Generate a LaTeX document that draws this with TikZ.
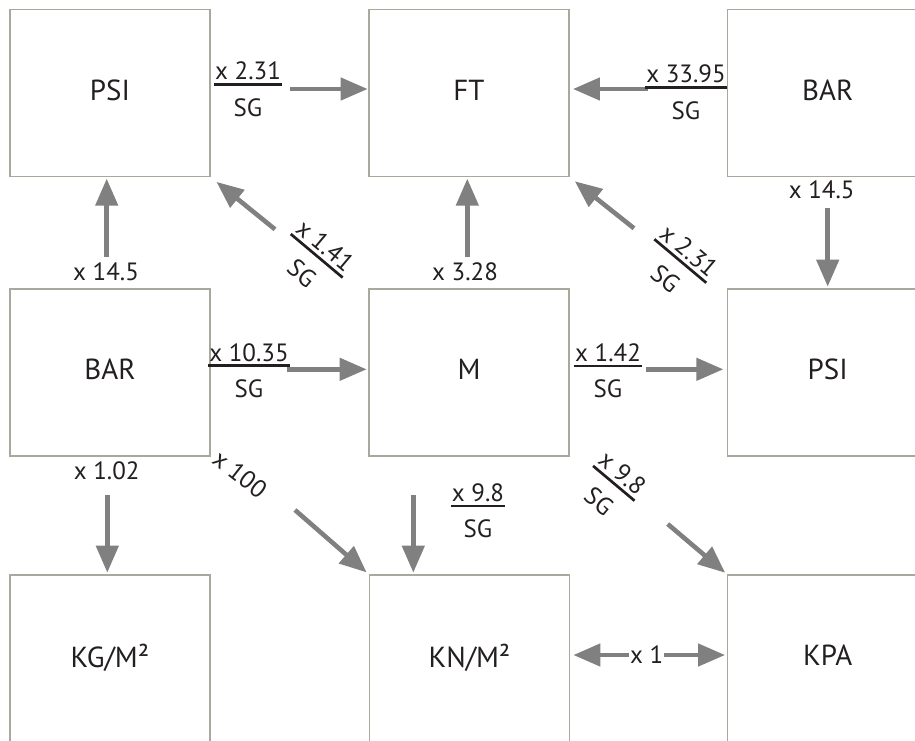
\documentclass[tikz,border=0pt]{standalone}
\usepackage{fontspec}
\setmainfont{PT Sans}
\usetikzlibrary{arrows.meta,calc}
\definecolor{boxc}{RGB}{168,168,156}
\definecolor{arrc}{RGB}{128,128,128}
\definecolor{txtc}{RGB}{35,31,32}
\newcommand\frc[1]{%
  \setbox0=\hbox{#1}\setbox2=\hbox{SG}%
  \dimen0=\wd0 \advance\dimen0 by 2pt\relax
  \hbox{\rlap{\vbox{\hbox to\dimen0{\hss\box0\hss}\kern3pt
     \hrule height2.7pt width\dimen0\kern-1.35pt}}%
   \vtop{\kern14pt\hbox to\dimen0{\hss\box2\hss}}}}
\tikzset{
  unitbox/.style={draw=boxc, line width=1.3pt, minimum width=200pt, minimum height=167pt,
    inner sep=0pt, font=\fontsize{29}{33}\selectfont, text=txtc, text depth=6pt},
  arr/.style={draw=arrc, line width=4.6pt, -{Triangle[length=27pt,width=22pt]}},
  lab/.style={font=\fontsize{25}{29}\selectfont, text=txtc, inner sep=1pt},
  fracnode/.style={lab, anchor=base, inner sep=0pt},
}
\begin{document}
\begin{tikzpicture}[x=1pt,y=-1pt]
\useasboundingbox (0,0) rectangle (915,740);
% boxes
\node[unitbox] (psiA) at (110,93) {PSI};
\node[unitbox] (ftA) at (469,93) {FT};
\node[unitbox] (barA) at (827.7,93) {BAR};
\node[unitbox] (barB) at (110,372.5) {BAR};
\node[unitbox] (mB) at (469,372.5) {M};
\node[unitbox] (psiB) at (827.7,372.5) {PSI};
\node[unitbox] (kg) at (110,658.5) {KG/M²};
\node[unitbox] (kn) at (469.5,658.5) {KN/M²};
\node[unitbox] (kpa) at (827.7,658.5) {KPA};
% tails
\coordinate (t1) at (290,89);
\coordinate (t2) at (648,89);
\coordinate (t3) at (275,229.3);
\coordinate (t4) at (634,228.3);
\coordinate (t5) at (106.7,256.7);
\coordinate (t6) at (467.3,256.7);
\coordinate (t7) at (827.7,208.3);
\coordinate (t8) at (287.3,369.3);
\coordinate (t9) at (645.7,369.3);
\coordinate (t10) at (107.3,495);
\coordinate (t11) at (413.3,495);
\coordinate (t12) at (295,510);
\coordinate (t13) at (667.7,524);
% arrows
\draw[arr, shorten >=0.7pt] (t1) -- (t1 -| ftA.west);
\draw[arr, shorten >=3.3pt] (t2) -- (t2 -| ftA.east);
\draw[arr, shorten >=7.5pt] (t3) -- (psiA.south east);
\draw[arr, shorten >=6.6pt] (t4) -- (ftA.south east);
\draw[arr, shorten >=1.5pt] (t5) -- (t5 |- psiA.south);
\draw[arr, shorten >=1.5pt] (t6) -- (t6 |- ftA.south);
\draw[arr, shorten >=1.7pt] (t7) -- (t7 |- psiB.north);
\draw[arr, shorten >=1.7pt] (t8) -- (t8 -| mB.west);
\draw[arr, shorten >=3.7pt] (t9) -- (t9 -| psiB.west);
\draw[arr, shorten >=1.7pt] (t10) -- (t10 |- kg.north);
\draw[arr, shorten >=1.7pt] (t11) -- (t11 |- kn.north);
\draw[arr, shorten >=3pt] (t12) -- (kn.north west);
\draw[arr, shorten >=2.5pt] (t13) -- (kpa.north west);
% labels
\node[lab] (l5) at (106,272) {x 14.5};
\node[lab] (l6) at (465,272) {x 3.28};
\node[lab] (l7) at (821.7,190) {x 14.5};
\node[lab] (l10) at (106.7,471) {x 1.02};
\node[lab, rotate=-38] (l12) at (240,474) {x 100};
\node[lab] (x1) at (646.7,655) {x 1};
\draw[arr, shorten >=3.2pt] (x1.west) -- (x1.west -| kn.east);
\draw[arr, shorten >=2pt] (x1.east) -- (x1.east -| kpa.west);
% fractions
\node[fracnode] (f1) at (248,84.3) {\frc{x 2.31}};
\node[fracnode] (f2) at (686,87.3) {\frc{x 33.95}};
\node[fracnode] (f8) at (249,365.7) {\frc{x 10.35}};
\node[fracnode] (f9) at (608,366) {\frc{x 1.42}};
\node[fracnode] (f11) at (478,506) {\frc{x 9.8}};
\node[fracnode, rotate=-40] (f3) at (316.7,255.8) {\frc{x 1.41}};
\node[fracnode, rotate=-40] (f4) at (680.3,261) {\frc{x 2.31}};
\node[fracnode, rotate=-40] (f13) at (613.8,483.3) {\frc{x 9.8}};
\end{tikzpicture}
\end{document}
